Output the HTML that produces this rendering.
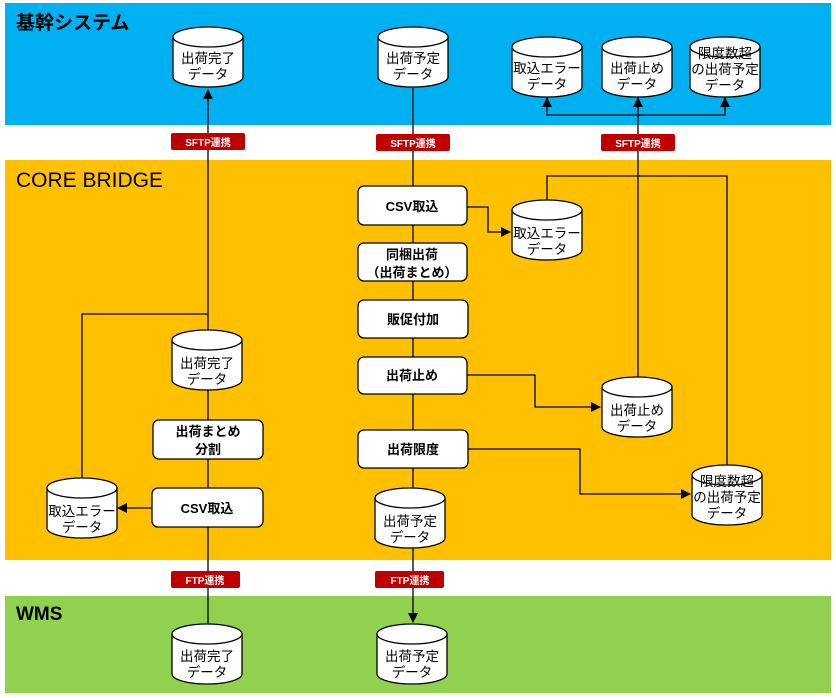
<!DOCTYPE html>
<html><head><meta charset="utf-8"><style>
body{margin:0;background:#fff}
svg{display:block}
text{font-family:"Liberation Sans","Noto Sans CJK JP",sans-serif}
</style></head><body>
<svg width="836" height="698" viewBox="0 0 836 698" xmlns="http://www.w3.org/2000/svg">
<defs>
<marker id="a" markerWidth="10" markerHeight="10" refX="9" refY="5" orient="auto" markerUnits="userSpaceOnUse">
<path d="M0,0 L10,5 L0,10 z" fill="#000"/></marker>
<g id="cyl">
<path d="M0,10 L0,50 A35,10 0 0 0 70,50 L70,10" fill="#fff" stroke="#000" stroke-width="1.3"/>
<ellipse cx="35" cy="10" rx="35" ry="10" fill="#fff" stroke="#000" stroke-width="1.3"/>
</g>
</defs>
<rect x="5" y="3" width="826" height="122" fill="#00B0F0"/>
<rect x="5" y="160" width="826" height="400" fill="#FFC000"/>
<rect x="5" y="596" width="826" height="97" fill="#92D050"/>
<text x="16" y="29" font-size="19" font-weight="bold">基幹システム</text>
<text x="16" y="187" font-size="21">CORE BRIDGE</text>
<text x="16" y="620" font-size="19" font-weight="bold">WMS</text>

<g stroke="#000" stroke-width="1.3" fill="none">
<line x1="208" y1="330" x2="208" y2="90" marker-end="url(#a)"/>
<polyline points="82,478 82,314 208,314"/>
<line x1="208" y1="390" x2="208" y2="420"/>
<line x1="208" y1="459" x2="208" y2="488"/>
<line x1="208" y1="527" x2="208" y2="624"/>
<line x1="152" y1="508" x2="118" y2="508" marker-end="url(#a)"/>
<line x1="413" y1="88" x2="413" y2="186"/>
<line x1="413" y1="225" x2="413" y2="243"/>
<line x1="413" y1="281" x2="413" y2="300"/>
<line x1="413" y1="338" x2="413" y2="357"/>
<line x1="413" y1="394" x2="413" y2="430"/>
<line x1="413" y1="468" x2="413" y2="488"/>
<line x1="413" y1="548" x2="413" y2="622" marker-end="url(#a)"/>
<polyline points="467,207 488,207 488,232 510,232" marker-end="url(#a)"/>
<polyline points="467,375 535,375 535,407 600,407" marker-end="url(#a)"/>
<polyline points="468,449 580,449 580,494 690,494" marker-end="url(#a)"/>
<polyline points="547,200 547,176 727,176 727,465"/>
<line x1="638" y1="377" x2="638" y2="98" marker-end="url(#a)"/>
<polyline points="638,115 547,115 547,98" marker-end="url(#a)"/>
<polyline points="638,115 725,115 725,98" marker-end="url(#a)"/>
</g>

<g font-size="13.5" text-anchor="middle">
<use href="#cyl" x="173" y="27"/><text x="208" y="63">出荷完了</text><text x="208" y="79">データ</text>
<use href="#cyl" x="378" y="27"/><text x="413" y="63">出荷予定</text><text x="413" y="79">データ</text>
<use href="#cyl" x="512" y="37"/><text x="547" y="73">取込エラー</text><text x="547" y="89">データ</text>
<use href="#cyl" x="602" y="37"/><text x="637" y="73">出荷止め</text><text x="637" y="89">データ</text>
<use href="#cyl" x="690" y="37"/><text x="725" y="58">限度数超</text><text x="725" y="74">の出荷予定</text><text x="725" y="90">データ</text>
<use href="#cyl" x="512" y="200"/><text x="547" y="238">取込エラー</text><text x="547" y="254">データ</text>
<use href="#cyl" x="602" y="377"/><text x="637" y="415">出荷止め</text><text x="637" y="431">データ</text>
<use href="#cyl" x="692" y="465"/><text x="727" y="486">限度数超</text><text x="727" y="502">の出荷予定</text><text x="727" y="518">データ</text>
<use href="#cyl" x="375" y="488"/><text x="410" y="526">出荷予定</text><text x="410" y="542">データ</text>
<use href="#cyl" x="172" y="330"/><text x="207" y="368">出荷完了</text><text x="207" y="384">データ</text>
<use href="#cyl" x="47" y="478"/><text x="82" y="516">取込エラー</text><text x="82" y="532">データ</text>
<use href="#cyl" x="172" y="624"/><text x="207" y="661">出荷完了</text><text x="207" y="677">データ</text>
<use href="#cyl" x="377" y="624"/><text x="412" y="661">出荷予定</text><text x="412" y="677">データ</text>
</g>

<g fill="#fff" stroke="#000" stroke-width="1.3">
<rect x="358" y="186" width="109" height="39" rx="6"/>
<rect x="358" y="243" width="109" height="38" rx="6"/>
<rect x="358" y="300" width="110" height="38" rx="6"/>
<rect x="358" y="357" width="109" height="37" rx="6"/>
<rect x="358" y="430" width="110" height="38" rx="6"/>
<rect x="153" y="420" width="110" height="39" rx="6"/>
<rect x="152" y="488" width="111" height="39" rx="6"/>
</g>
<g font-size="13" font-weight="bold" text-anchor="middle">
<text x="412" y="211">CSV取込</text>
<text x="412" y="259">同梱出荷</text><text x="412" y="277">（出荷まとめ）</text>
<text x="413" y="324">販促付加</text>
<text x="412" y="380">出荷止め</text>
<text x="413" y="454">出荷限度</text>
<text x="208" y="436">出荷まとめ</text><text x="208" y="454">分割</text>
<text x="207" y="513">CSV取込</text>
</g>

<g fill="#C00000">
<rect x="171" y="133" width="74" height="17" rx="2"/>
<rect x="376" y="134" width="74" height="17" rx="2"/>
<rect x="601" y="134" width="74" height="17" rx="2"/>
<rect x="171" y="571" width="69" height="17" rx="2"/>
<rect x="375" y="571" width="69" height="17" rx="2"/>
</g>
<g fill="#fff" font-size="10" font-weight="bold" text-anchor="middle">
<text x="208" y="146">SFTP連携</text>
<text x="413" y="147">SFTP連携</text>
<text x="638" y="147">SFTP連携</text>
<text x="205" y="584">FTP連携</text>
<text x="410" y="584">FTP連携</text>
</g>
</svg>
</body></html>
